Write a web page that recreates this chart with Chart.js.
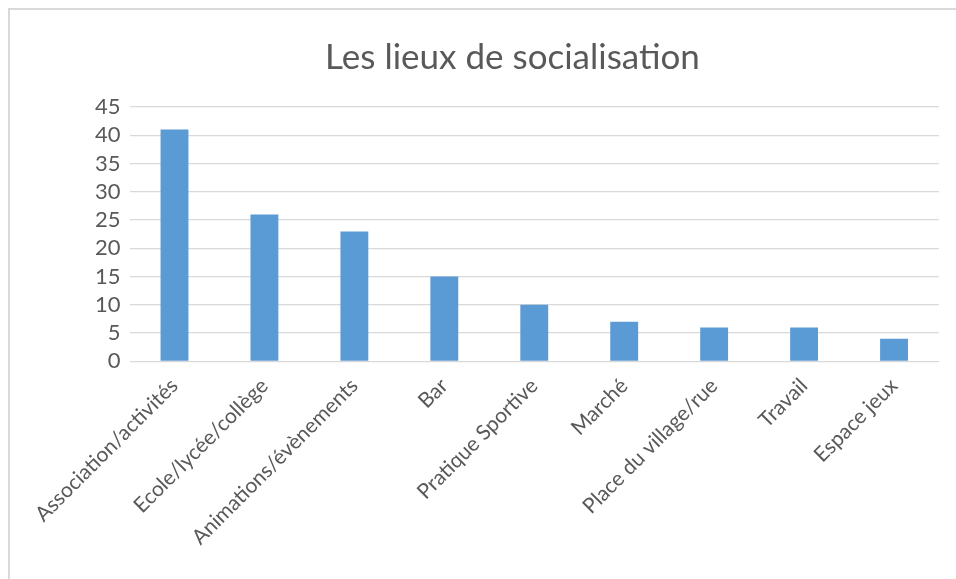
<!DOCTYPE html>
<html>
<head>
<meta charset="utf-8">
<script src="https://cdn.jsdelivr.net/npm/chart.js@4.4.1/dist/chart.umd.min.js"></script>
<style>
  html, body { margin: 0; padding: 0; background: #fff; }
  #wrap { position: relative; width: 956px; height: 579px; }
  #frame { position: absolute; left: 8px; top: 8px; right: -2px; bottom: -2px;
           border-left: 2px solid #d9d9d9; border-top: 2px solid #d9d9d9; }
  canvas { position: absolute; left: 0; top: 0; }
</style>
</head>
<body>
<div id="wrap">
  <div id="frame"></div>
  <canvas id="lieuxChart" width="956" height="579"></canvas>
</div>
<script>
const categories = ['Association/activités', 'Ecole/lycée/collège', 'Animations/évènements', 'Bar',
                    'Pratique Sportive', 'Marché', 'Place du village/rue', 'Travail', 'Espace jeux'];
const values = [41, 26, 23, 15, 10, 7, 6, 6, 4];
const chartTitle = 'Les lieux de socialisation';

const ctx = document.getElementById('lieuxChart').getContext('2d');
const lieuxChart = new Chart(ctx, {
    type: 'bar',
    data: {
        labels: categories,
        datasets: [{
            data: values,
            backgroundColor: '#5b9bd5',
            borderWidth: 0,
            barPercentage: 0.31,
            categoryPercentage: 1
        }]
    },
    options: {
        responsive: false,
        animation: false,
        layout: { padding: { left: 86, right: 17, top: 14, bottom: 25 } },
        plugins: {
            legend: { display: false },
            tooltip: { enabled: false },
            title: {
                display: true,
                text: chartTitle,
                color: '#595959',
                font: { family: 'Lato', size: 35, weight: 'normal' },
                padding: { top: 23, bottom: 28 }
            }
        },
        scales: {
            x: {
                grid: { display: false },
                border: { display: false },
                ticks: {
                    color: '#595959',
                    font: { family: 'Lato', size: 21 },
                    minRotation: 45,
                    maxRotation: 45,
                    autoSkip: false,
                    padding: 4
                }
            },
            y: {
                min: 0,
                max: 45,
                grid: { color: '#d9d9d9', lineWidth: 1.3, drawTicks: false },
                border: { display: false },
                ticks: {
                    stepSize: 5,
                    autoSkip: false,
                    color: '#595959',
                    font: { family: 'Lato', size: 22 },
                    padding: 9
                }
            }
        }
    }
});
</script>
</body>
</html>
